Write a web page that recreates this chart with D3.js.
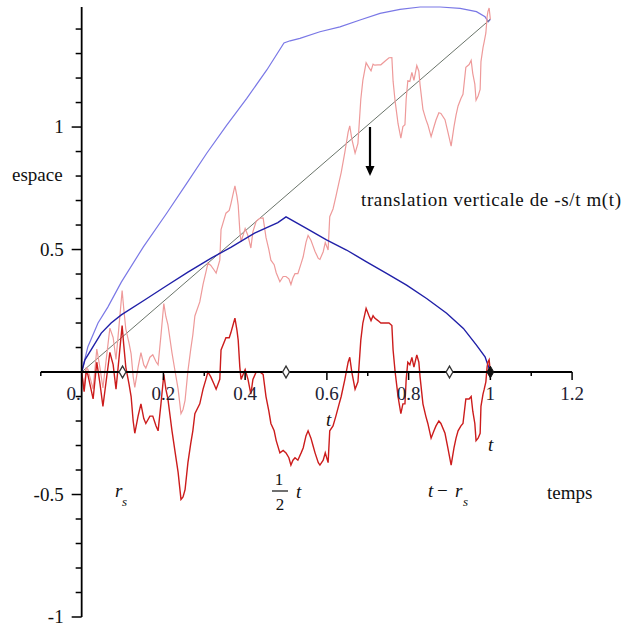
<!DOCTYPE html>
<html>
<head>
<meta charset="utf-8">
<script src="https://cdn.jsdelivr.net/npm/d3@7"></script>
<style>
  html, body { margin: 0; padding: 0; background: #fff; }
</style>
</head>
<body>
<svg id="chart" width="623" height="629" font-family="'Liberation Serif', 'DejaVu Serif', serif"></svg>
<script>
// Time grid of the simulated path
const timeSteps = [0, 0.006, 0.011, 0.015, 0.028, 0.037, 0.045, 0.052, 0.062, 0.069, 0.077, 0.084, 0.091, 0.099, 0.103, 0.108, 0.116, 0.121, 0.126, 0.130, 0.138, 0.145, 0.152, 0.157, 0.167, 0.174, 0.182, 0.187, 0.194, 0.201, 0.206, 0.211, 0.221, 0.228, 0.236, 0.243, 0.248, 0.253, 0.260, 0.267, 0.272, 0.277, 0.289, 0.297, 0.304, 0.309, 0.316, 0.324, 0.329, 0.338, 0.341, 0.353, 0.361, 0.365, 0.370, 0.375, 0.380, 0.383, 0.387, 0.390, 0.395, 0.400, 0.407, 0.414, 0.419, 0.427, 0.436, 0.444, 0.451, 0.458, 0.463, 0.471, 0.476, 0.485, 0.493, 0.500, 0.507, 0.512, 0.517, 0.522, 0.529, 0.537, 0.542, 0.549, 0.554, 0.561, 0.566, 0.571, 0.579, 0.583, 0.591, 0.596, 0.603, 0.607, 0.615, 0.622, 0.630, 0.635, 0.644, 0.652, 0.656, 0.661, 0.669, 0.676, 0.683, 0.688, 0.696, 0.703, 0.708, 0.713, 0.717, 0.725, 0.732, 0.742, 0.752, 0.759, 0.762, 0.767, 0.772, 0.774, 0.781, 0.786, 0.791, 0.794, 0.798, 0.803, 0.808, 0.813, 0.820, 0.825, 0.828, 0.835, 0.842, 0.847, 0.855, 0.862, 0.867, 0.874, 0.879, 0.889, 0.896, 0.904, 0.911, 0.916, 0.921, 0.928, 0.933, 0.940, 0.948, 0.953, 0.957, 0.962, 0.965, 0.970, 0.975, 0.977, 0.982, 0.985, 0.989, 0.992, 0.994, 0.997, 1.0];
// Bridge values (after the vertical translation)
const bridgeValues = [0, -0.08, 0.0, -0.01, -0.11, 0.04, -0.05, -0.14, -0.01, 0.08, 0.03, -0.07, 0.05, 0.19, 0.11, 0.02, -0.05, -0.10, -0.20, -0.25, -0.18, -0.13, -0.19, -0.21, -0.18, -0.18, -0.22, -0.24, -0.13, -0.01, -0.07, -0.11, -0.24, -0.32, -0.41, -0.52, -0.51, -0.48, -0.37, -0.29, -0.24, -0.17, -0.13, -0.07, -0.03, 0.00, -0.02, -0.05, -0.07, -0.03, 0.09, 0.14, 0.14, 0.16, 0.19, 0.22, 0.17, 0.13, 0.02, -0.03, -0.01, 0.01, -0.03, -0.09, -0.03, 0.00, 0.00, -0.01, -0.10, -0.16, -0.21, -0.24, -0.28, -0.33, -0.32, -0.33, -0.35, -0.38, -0.36, -0.35, -0.36, -0.33, -0.31, -0.26, -0.24, -0.27, -0.30, -0.33, -0.37, -0.38, -0.36, -0.33, -0.37, -0.24, -0.22, -0.18, -0.13, -0.10, -0.03, 0.04, 0.06, 0.00, -0.07, -0.04, 0.13, 0.20, 0.26, 0.23, 0.21, 0.23, 0.22, 0.21, 0.20, 0.20, 0.20, 0.19, 0.09, 0.00, -0.07, -0.10, -0.17, -0.13, -0.13, -0.03, 0.04, 0.03, 0.06, 0.02, 0.07, 0.04, -0.02, -0.13, -0.18, -0.21, -0.27, -0.24, -0.22, -0.20, -0.21, -0.25, -0.31, -0.38, -0.31, -0.27, -0.24, -0.22, -0.21, -0.11, -0.11, -0.10, -0.16, -0.21, -0.28, -0.27, -0.25, -0.14, -0.09, -0.07, -0.04, 0.02, 0.04, 0.05, 0.00];
// Terminal value m(t) at t = 1
const horizon = 1;
const terminalValue = 1.44;

// Upper envelope (light blue)
const upperS = [0, 0.015, 0.040, 0.064, 0.097, 0.151, 0.208, 0.257, 0.306, 0.355, 0.404, 0.453, 0.495, 0.510, 0.534, 0.583, 0.632, 0.681, 0.730, 0.779, 0.828, 0.877, 0.926, 0.966, 0.987, 0.995, 1.0];
const upperV = [0, 0.102, 0.200, 0.265, 0.367, 0.511, 0.648, 0.770, 0.893, 1.008, 1.117, 1.233, 1.343, 1.352, 1.362, 1.389, 1.409, 1.437, 1.464, 1.480, 1.490, 1.490, 1.484, 1.471, 1.450, 1.430, 1.44];
// Lower envelope (dark blue)
const lowerS = [0, 0.008, 0.023, 0.048, 0.072, 0.097, 0.154, 0.203, 0.260, 0.317, 0.366, 0.423, 0.480, 0.500, 0.551, 0.599, 0.648, 0.697, 0.746, 0.795, 0.844, 0.893, 0.934, 0.966, 0.987, 1.0];
const lowerV = [0, 0.05, 0.09, 0.159, 0.200, 0.233, 0.294, 0.347, 0.408, 0.465, 0.510, 0.567, 0.610, 0.633, 0.585, 0.539, 0.498, 0.450, 0.403, 0.355, 0.300, 0.240, 0.178, 0.110, 0.062, 0.0];

// Axis ticks
const xMajor = [0, 0.2, 0.4, 0.6, 0.8, 1, 1.2];
const xMajorLabels = ["0.", "0.2", "0.4", "0.6", "0.8", "1", "1.2"];
const yMajor = [-1, -0.5, 0.5, 1];
const yMajorLabels = ["-1", "-0.5", "0.5", "1"];
// Marked times on the time axis: r_s, t/2, t - r_s, t
const markTimes = [0.1, 0.5, 0.9];
const endTime = [1];

const svg = d3.select("#chart");
const x = d3.scaleLinear().domain([-0.1, 1.2]).range([40.8, 572.1]);
const y = d3.scaleLinear().domain([-1, 1.49]).range([617, 7]);

const line = d3.line().x(d => x(d[0])).y(d => y(d[1]));
const zip = (a, b) => a.map((v, i) => [v, b[i]]);

// Path before translation: bridge + s/t m(t)
const raisedValues = bridgeValues.map((v, i) => v + timeSteps[i] / horizon * terminalValue);

// Upper envelope
svg.append("path").datum(zip(upperS, upperV)).attr("d", line)
  .attr("fill", "none").attr("stroke", "#7a78e6").attr("stroke-width", 1.2);

// Chord from (0,0) to (t, m(t))
svg.append("path").datum([[0, 0], [horizon, terminalValue]]).attr("d", line)
  .attr("fill", "none").attr("stroke", "#6a746a").attr("stroke-width", 1);

// Raised path
svg.append("path").datum(zip(timeSteps, raisedValues)).attr("d", line)
  .attr("fill", "none").attr("stroke", "#ee9a9a").attr("stroke-width", 1.2);

// Lower envelope
svg.append("path").datum(zip(lowerS, lowerV)).attr("d", line)
  .attr("fill", "none").attr("stroke", "#2020a8").attr("stroke-width", 1.4);

// Bridge
svg.append("path").datum(zip(timeSteps, bridgeValues)).attr("d", line)
  .attr("fill", "none").attr("stroke", "#cc1c1c").attr("stroke-width", 1.4);

// Axes
const xMinor = d3.range(-1, 13).map(k => k / 10).filter(v => !xMajor.some(m => Math.abs(m - v) < 1e-9));
const yMinor = d3.range(-10, 15).map(k => k / 10).filter(v => !yMajor.some(m => Math.abs(m - v) < 1e-9) && Math.abs(v) > 1e-9);

const axisG = svg.append("g");
axisG.append("line").attr("x1", x(-0.1)).attr("x2", x(1.2)).attr("y1", y(0)).attr("y2", y(0))
  .attr("stroke", "#000").attr("stroke-width", 1.8);
axisG.append("line").attr("x1", x(0)).attr("x2", x(0)).attr("y1", y(-1)).attr("y2", y(1.49))
  .attr("stroke", "#000").attr("stroke-width", 1.8);

axisG.selectAll(".xmaj").data(xMajor.filter(v => v !== 0)).join("line")
  .attr("x1", d => x(d)).attr("x2", d => x(d)).attr("y1", y(0)).attr("y2", y(0) + 8)
  .attr("stroke", "#000").attr("stroke-width", 1.5);
axisG.selectAll(".xmin").data(xMinor).join("line")
  .attr("x1", d => x(d)).attr("x2", d => x(d)).attr("y1", y(0)).attr("y2", y(0) + 4)
  .attr("stroke", "#000").attr("stroke-width", 1.5);
axisG.selectAll(".ymaj").data(yMajor).join("line")
  .attr("x1", x(0) - 10).attr("x2", x(0)).attr("y1", d => y(d)).attr("y2", d => y(d))
  .attr("stroke", "#000").attr("stroke-width", 1.5);
axisG.selectAll(".ymin").data(yMinor).join("line")
  .attr("x1", x(0) - 6).attr("x2", x(0)).attr("y1", d => y(d)).attr("y2", d => y(d))
  .attr("stroke", "#000").attr("stroke-width", 1.5);

axisG.selectAll(".xlab").data(xMajor).join("text")
  .attr("x", (d, i) => d === 0 ? x(d) - 8 : x(d)).attr("y", y(0) + 28)
  .attr("text-anchor", "middle").attr("font-size", 19).attr("fill", "#223")
  .text((d, i) => xMajorLabels[i]);
axisG.selectAll(".ylab").data(yMajor).join("text")
  .attr("x", x(0) - 18).attr("y", d => y(d) + 6)
  .attr("text-anchor", "end").attr("font-size", 19).attr("fill", "#111")
  .text((d, i) => yMajorLabels[i]);

// Axis titles
svg.append("text").attr("x", 12).attr("y", 181).attr("font-size", 19).attr("fill", "#111").text("espace");
svg.append("text").attr("x", 547).attr("y", 499).attr("font-size", 19).attr("fill", "#111").text("temps");

// Markers on the time axis
const diamond = d3.symbol().type(d3.symbolDiamond).size(40);
svg.selectAll(".mark").data(markTimes).join("path")
  .attr("d", diamond).attr("transform", d => `translate(${x(d)},${y(0)})`)
  .attr("fill", "#fff").attr("stroke", "#333").attr("stroke-width", 1.3);
svg.selectAll(".endmark").data(endTime).join("path")
  .attr("d", diamond).attr("transform", d => `translate(${x(d)},${y(0)})`)
  .attr("fill", "#111").attr("stroke", "#111");

// Time annotations
const ann = svg.append("g").attr("font-style", "italic").attr("font-size", 19).attr("fill", "#111");
ann.append("text").attr("x", 115).attr("y", 497).text("r");
ann.append("text").attr("x", 122).attr("y", 506).attr("font-size", 13).text("s");

ann.append("text").attr("x", 279).attr("y", 485).attr("text-anchor", "middle").attr("font-style", "normal").attr("font-size", 17).text("1");
ann.append("line").attr("x1", 272).attr("x2", 288).attr("y1", 491).attr("y2", 491).attr("stroke", "#111").attr("stroke-width", 1.2);
ann.append("text").attr("x", 280).attr("y", 510).attr("text-anchor", "middle").attr("font-style", "normal").attr("font-size", 17).text("2");
ann.append("text").attr("x", 296).attr("y", 498).text("t");

ann.append("text").attr("x", 428).attr("y", 497).text("t");
ann.append("text").attr("x", 437).attr("y", 497).attr("font-style", "normal").text("\u2212");
ann.append("text").attr("x", 455).attr("y", 497).text("r");
ann.append("text").attr("x", 463).attr("y", 506).attr("font-size", 13).text("s");

ann.append("text").attr("x", 488).attr("y", 451).text("t");
ann.append("text").attr("x", 326).attr("y", 426).text("t");

// Translation arrow and note
svg.append("line").attr("x1", 370).attr("x2", 370).attr("y1", 127).attr("y2", 168)
  .attr("stroke", "#000").attr("stroke-width", 2.2);
svg.append("path").attr("d", "M365.5,166 L374.5,166 L370,176 Z").attr("fill", "#000");
svg.append("text").attr("x", 361).attr("y", 206).attr("font-size", 19).attr("fill", "#111")
  .attr("textLength", 260).attr("lengthAdjust", "spacing")
  .text("translation verticale de -s/t m(t)");
</script>
</body>
</html>
